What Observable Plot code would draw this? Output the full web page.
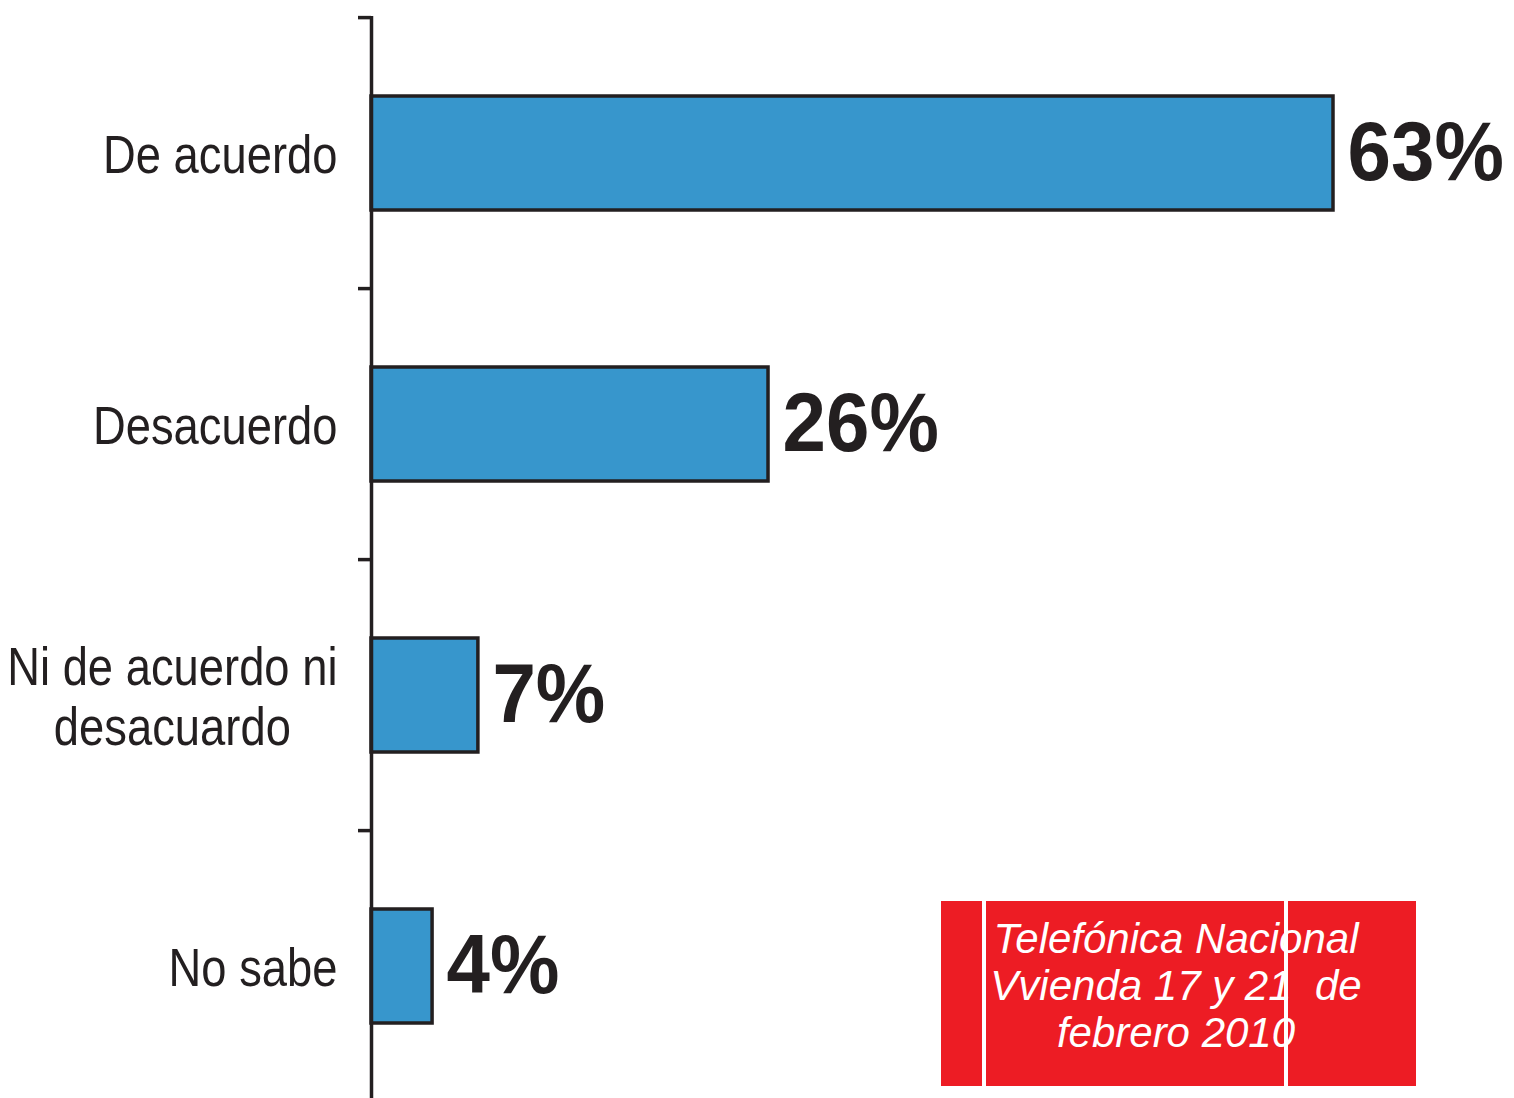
<!DOCTYPE html>
<html>
<head>
<meta charset="utf-8">
<script src="https://cdn.jsdelivr.net/npm/d3@7"></script>
<script src="https://cdn.jsdelivr.net/npm/@observablehq/plot@0.6"></script>
<style>
  html, body { margin: 0; padding: 0; background: #fff; }
  #wrap { position: relative; width: 1514px; height: 1098px; overflow: hidden; }
  #note { position: absolute; left: 941px; top: 901px; width: 475px; height: 185px; background: #ed1c24; }
  #note .txt { position: absolute; left: 0; top: 14px; width: 470px; text-align: center; color: #fff;
    font-family: "Liberation Sans", Arial, sans-serif; font-style: italic; font-size: 42px; line-height: 47px; }
  #note .bar { position: absolute; top: 0; width: 4px; height: 185px; background: #fff; }
</style>
</head>
<body>
<div id="wrap">
  <div id="chart"></div>
  <div id="note">
    <div class="txt">Telefónica Nacional<br>Vvienda 17 y 21&nbsp; de<br>febrero 2010</div>
    <div class="bar" style="left:41px"></div>
    <div class="bar" style="left:343px"></div>
  </div>
</div>
<script>
const categories = ["De acuerdo", "Desacuerdo", "Ni de acuerdo ni desacuardo", "No sabe"];
const labelLines = [["De acuerdo"], ["Desacuerdo"], ["Ni de acuerdo ni", "desacuardo"], ["No sabe"]];
const values = [63, 26, 7, 4];

const data = categories.map((c, i) => ({cat: c, value: values[i]}));

const ink = "#231f20";
const labelFont = '"Liberation Sans", Arial, sans-serif';
const labelSize = 54;
const labelSqueeze = 0.84;   // reference type is horizontally condensed
const valueSize = 84;
const valueSqueeze = 0.93;

// measure label widths to centre multi-line labels as a block
const ctx = document.createElement("canvas").getContext("2d");
ctx.font = `${labelSize}px ${labelFont}`;
const widths = labelLines.map(lines => labelSqueeze * d3.max(lines, l => ctx.measureText(l).width));

const labelMarks = categories.map((c, i) =>
  Plot.text([c], {
    x: () => 0, y: d => d, text: () => labelLines[i].join("\n"),
    textAnchor: "middle", dx: -(34 + widths[i] / 2),
    fontSize: labelSize, fontFamily: labelFont, fill: ink, lineHeight: 1.12,
    ariaLabel: () => "catlabel"
  })
);

const chart = Plot.plot({
  width: 1514,
  height: 1098,
  marginTop: 16,
  marginBottom: 0,
  marginLeft: 371,
  marginRight: 0,
  x: {domain: [0, 63], range: [371, 1333], axis: null},
  y: {domain: categories, range: [16, 1103], paddingInner: 0.58, paddingOuter: 0.29, axis: null},
  marks: [
    Plot.barX(data, {x: "value", y: "cat", fill: "#3796cc", stroke: ink, strokeWidth: 3.5}),
    Plot.ruleX([0], {stroke: ink, strokeWidth: 3.5}),
    Plot.ruleY(categories, {y: d => d, x1: 0, x2: 0, insetLeft: -13, dy: -135.9, stroke: ink, strokeWidth: 3.5}),
    Plot.text(data, {x: "value", y: "cat", text: d => d.value + "%", textAnchor: "start", dx: 14,
      fontSize: valueSize, fontWeight: "bold", fontFamily: '"Liberation Sans", Arial, sans-serif', fill: ink,
      ariaLabel: () => "vallabel"}),
    ...labelMarks
  ]
});

function squeeze(selector, k) {
  chart.querySelectorAll(selector).forEach(t => {
    const tr = t.getAttribute("transform") || "";
    t.setAttribute("transform", tr + ` scale(${k},1)`);
  });
}
squeeze('text[aria-label="catlabel"]', labelSqueeze);
squeeze('text[aria-label="vallabel"]', valueSqueeze);

document.getElementById("chart").appendChild(chart);
</script>
</body>
</html>
